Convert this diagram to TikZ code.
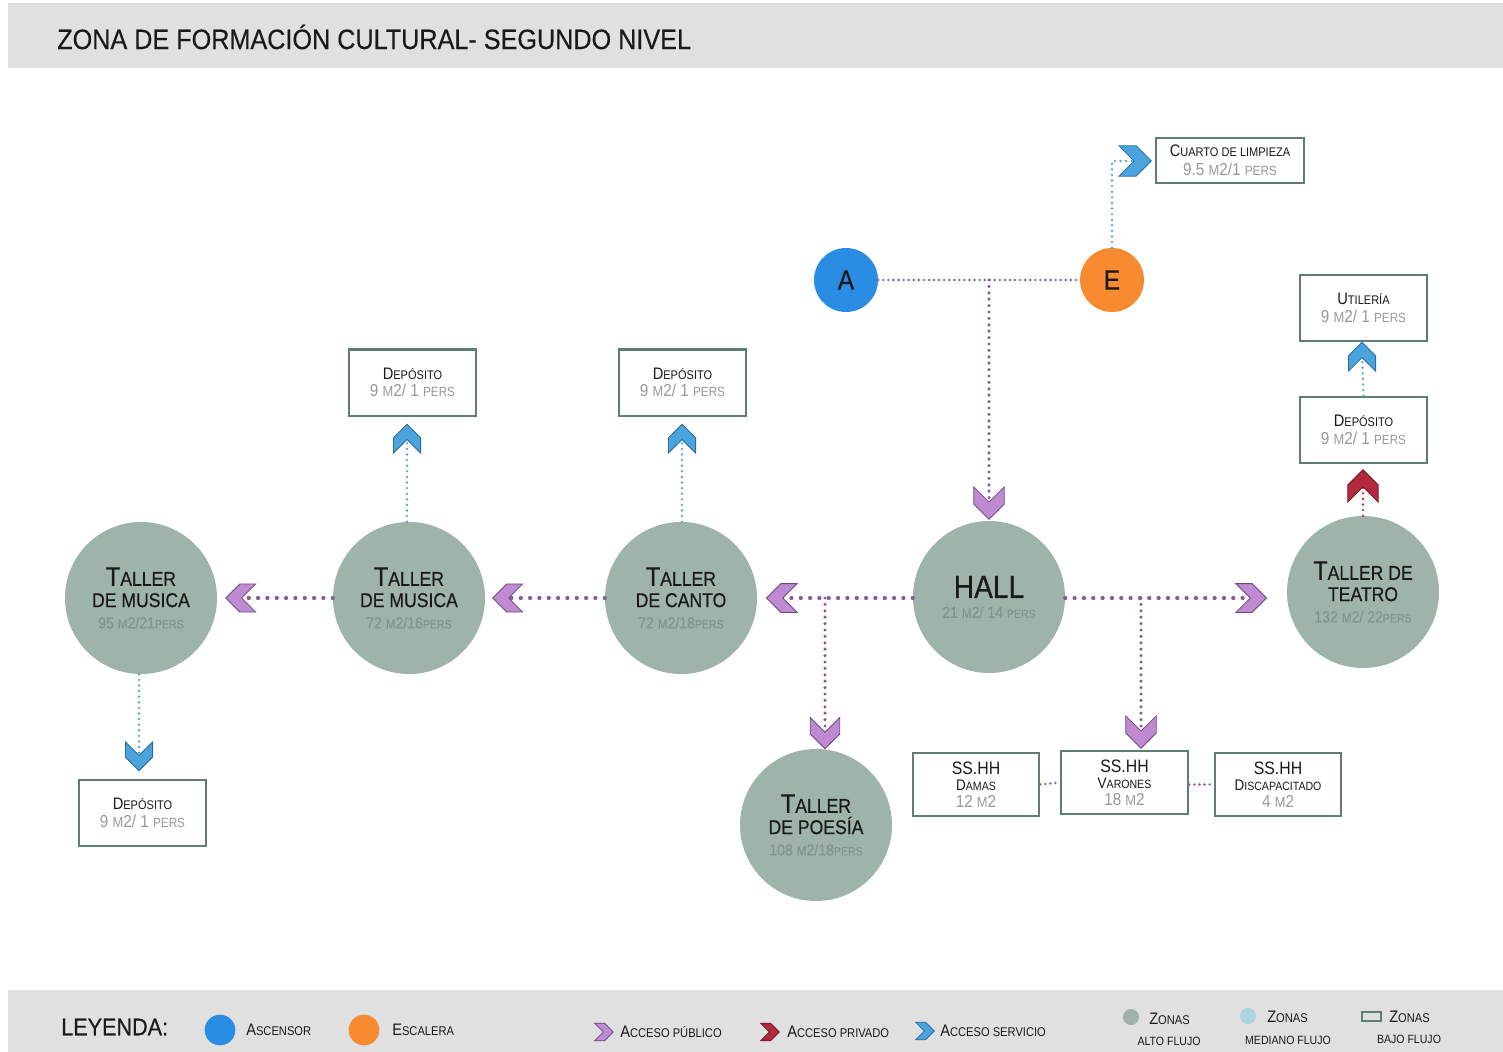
\documentclass[tikz,border=0pt]{standalone}
\usepackage{fontspec}
\setmainfont{Liberation Sans}[FakeStretch=0.88]
\newfontfamily\titlefont{Liberation Sans}[FakeStretch=0.9, FakeBold=0.4]
\newfontfamily\medfont{Liberation Sans}[FakeStretch=0.88, FakeBold=0.5]
\newcommand\fsz[1]{\fontsize{#1}{#1}\selectfont}
\definecolor{circ}{HTML}{9EB4AA}
\definecolor{boxl}{HTML}{5F7E73}
\definecolor{ctxt}{HTML}{84958E}
\definecolor{btxt}{HTML}{999999}
\definecolor{txt}{HTML}{1A1A1A}
\definecolor{barg}{HTML}{E0E0E0}
\definecolor{pfill}{HTML}{C08AD3}
\definecolor{pline}{HTML}{6E4A7C}
\definecolor{pdotc}{HTML}{8B5A9C}
\definecolor{bfill}{HTML}{4BA4DE}
\definecolor{bline}{HTML}{2B6E9E}
\definecolor{bdotc}{HTML}{5AA5D5}
\definecolor{rfill}{HTML}{B3283A}
\definecolor{rline}{HTML}{6E1520}
\definecolor{rdotc}{HTML}{A83A48}
\definecolor{ablue}{HTML}{2A8DE4}
\definecolor{eor}{HTML}{F88A30}
\definecolor{lblue}{HTML}{A9D6E5}
\begin{document}
\begin{tikzpicture}[x=0.75pt,y=-0.75pt,
  zone/.style={circle, fill=circ, minimum size=114pt, inner sep=0pt, align=center, font=\medfont\fsz{16}, text=txt},
  roombox/.style={draw=boxl, line width=2pt, fill=white, align=center, inner sep=0pt, text=txt, font=\fsz{13}},
  vert/.style={circle, minimum size=48pt, inner sep=0pt, font=\medfont\fsz{21}, text=txt},
  pdot/.style={draw=pdotc, line width=3.2pt, line cap=round, dash pattern=on 0pt off 7pt},
  pdots/.style={draw=pdotc, line width=2.6pt, line cap=round, dash pattern=on 0pt off 4.8pt},
  pdotxs/.style={draw=pdotc, line width=2pt, line cap=round, dash pattern=on 0pt off 3.8pt},
  bdot/.style={draw=bdotc, line width=2pt, line cap=round, dash pattern=on 0pt off 4.2pt},
  rdot/.style={draw=rdotc, line width=2pt, line cap=round, dash pattern=on 0pt off 4.2pt},
  chev/.pic={\path[pic actions] (-19,16) -- (-1,16) -- (15,0) -- (-1,-16) -- (-19,-16) -- (-3,0) -- cycle;},
  chP/.style={fill=pfill, draw=pline, line width=0.6pt},
  chB/.style={fill=bfill, draw=bline, line width=0.6pt},
  chR/.style={fill=rfill, draw=rline, line width=0.6pt},
  legtxt/.style={anchor=west, inner sep=0pt, text=txt}
]
\useasboundingbox (0,0) rectangle (1503,1052);
\fill[white] (0,0) rectangle (1503,1052);
\fill[barg] (8,3) rectangle (1503,68);
\fill[barg] (8,990) rectangle (1503,1052);
\node[anchor=west, inner sep=0pt, font=\titlefont\fsz{21}, text=txt] (title) at (57,37) {ZONA DE FORMACIÓN CULTURAL- SEGUNDO NIVEL};

% circles
\node[zone] (TM1) at (141,598) {{\fsz{20}T\fsz{15}ALLER}\\{\fsz{15}DE MUSICA}\\{\color{ctxt}\fsz{12}95 \fsz{10}M\fsz{12}2/21\fsz{9}PERS}};
\node[zone] (TM2) at (409,598) {{\fsz{20}T\fsz{15}ALLER}\\{\fsz{15}DE MUSICA}\\{\color{ctxt}\fsz{12}72 \fsz{10}M\fsz{12}2/16\fsz{9}PERS}};
\node[zone] (TC) at (681,598) {{\fsz{20}T\fsz{15}ALLER}\\{\fsz{15}DE CANTO}\\{\color{ctxt}\fsz{12}72 \fsz{10}M\fsz{12}2/18\fsz{9}PERS}};
\node[zone] (Hall) at (989,597) {{\fsz{24}HALL}\\[-1pt]{\color{ctxt}\fsz{12}21 \fsz{10}M\fsz{12}2/ 14 \fsz{9}PERS}};
\node[zone] (Te) at (1363,592) {{\fsz{20}T\fsz{15}ALLER DE}\\{\fsz{15}TEATRO}\\{\color{ctxt}\fsz{12}132 \fsz{10}M\fsz{12}2/ 22\fsz{9}PERS}};
\node[zone] (Po) at (816,825) {{\fsz{20}T\fsz{15}ALLER}\\{\fsz{15}DE POESÍA}\\{\color{ctxt}\fsz{12}108 \fsz{10}M\fsz{12}2/18\fsz{9}PERS}};
\node[vert, fill=ablue] (A) at (846,280) {A};
\node[vert, fill=eor] (E) at (1112,280) {E};

% boxes
\node[roombox, minimum width=111pt, minimum height=33.75pt, font=\fsz{14.5}] (Cu) at (1230,160.5) {{\fsz{12.5}C\fsz{9.4}UARTO DE LIMPIEZA}\\{\color{btxt}\fsz{13}9.5 \fsz{11}M\fsz{13}2/1 \fsz{10}PERS}};
\node[roombox, minimum width=95.25pt, minimum height=49.5pt] (Ut) at (1363.5,308) {{\fsz{12.5}U\fsz{9.4}TILERÍA}\\{\color{btxt}\fsz{13}9 \fsz{11}M\fsz{13}2/ 1 \fsz{10}PERS}};
\node[roombox, minimum width=95.25pt, minimum height=49.5pt] (D3) at (1363.5,430) {{\fsz{12.5}D\fsz{9.4}EPÓSITO}\\{\color{btxt}\fsz{13}9 \fsz{11}M\fsz{13}2/ 1 \fsz{10}PERS}};
\node[roombox, minimum width=95.25pt, minimum height=50pt] (D1) at (412.5,382.5) {{\fsz{12.5}D\fsz{9.4}EPÓSITO}\\{\color{btxt}\fsz{13}9 \fsz{11}M\fsz{13}2/ 1 \fsz{10}PERS}};
\node[roombox, minimum width=95.25pt, minimum height=50pt] (D2) at (682.5,382.5) {{\fsz{12.5}D\fsz{9.4}EPÓSITO}\\{\color{btxt}\fsz{13}9 \fsz{11}M\fsz{13}2/ 1 \fsz{10}PERS}};
\node[roombox, minimum width=95.25pt, minimum height=49.5pt] (D4) at (142.5,813) {{\fsz{12.5}D\fsz{9.4}EPÓSITO}\\{\color{btxt}\fsz{13}9 \fsz{11}M\fsz{13}2/ 1 \fsz{10}PERS}};
\node[roombox, minimum width=94.5pt, minimum height=47.25pt, font=\fsz{12.4}] (Da) at (976,784.5) {{\fsz{13.5}SS.HH}\\{\fsz{11.5}D\fsz{9}AMAS}\\{\color{btxt}\fsz{13}12 \fsz{11}M\fsz{13}2}};
\node[roombox, minimum width=95.25pt, minimum height=47.25pt, font=\fsz{12.4}] (Va) at (1124.5,782.5) {{\fsz{13.5}SS.HH}\\{\fsz{11.5}V\fsz{9}ARONES}\\{\color{btxt}\fsz{13}18 \fsz{11}M\fsz{13}2}};
\node[roombox, minimum width=94.5pt, minimum height=47.25pt, font=\fsz{12.4}] (Di) at (1278,784.5) {{\fsz{13.5}SS.HH}\\{\fsz{11.5}D\fsz{9}ISCAPACITADO}\\{\color{btxt}\fsz{13}4 \fsz{11}M\fsz{13}2}};

% junctions and chevron positions
\coordinate (jAE) at (989,280);
\coordinate (cHall) at (989,505);
\coordinate (cCu) at (1137,161);
\coordinate (cTC) at (780,598);
\coordinate (jP) at (825,598);
\coordinate (cPo) at (825,735);
\coordinate (cTM2) at (506,598);
\coordinate (cTM1) at (239,598);
\coordinate (cTe) at (1253,598);
\coordinate (jS) at (1141,598);
\coordinate (cSs) at (1141,734);
\coordinate (cD3) at (1363,484);
\coordinate (cUt) at (1362,355);
\coordinate (cD1) at (407,437);
\coordinate (cD2) at (682,437);
\coordinate (cD4) at (139,758);

% connectors
\draw[pdotxs] (A) -- (E);
\draw[pdots] (jAE) -- (cHall);
\draw[bdot] (E.north) |- (cCu);
\draw[pdot] (Hall.west |- cTC) -- (cTC);
\draw[pdots] (jP) -- (cPo);
\draw[pdot] (TC.west) -- (cTM2);
\draw[pdot] (TM2.west) -- (cTM1);
\draw[pdot] (Hall.east |- cTe) -- (cTe);
\draw[pdots] (jS) -- (cSs);
\draw[pdotxs] (Da.east) -- (Va.west);
\draw[pdotxs] (Va.east |- Di.west) -- (Di.west);
\draw[rdot] (Te.north) -- (cD3);
\draw[bdot] (D3.north) -- (cUt);
\draw[bdot] (TM2.north -| cD1) -- (cD1);
\draw[bdot] (TC.north -| cD2) -- (cD2);
\draw[bdot] (TM1.south -| cD4) -- (cD4);

% chevrons
\pic[chP, rotate=-90, scale=0.95] at (cHall) {chev};
\pic[chB, scale=0.95] at (cCu) {chev};
\pic[chP, rotate=180, scale=0.9] at (cTC) {chev};
\pic[chP, rotate=-90, scale=0.92] at (cPo) {chev};
\pic[chP, rotate=180, scale=0.88] at (cTM2) {chev};
\pic[chP, rotate=180, scale=0.88] at (cTM1) {chev};
\pic[chP, scale=0.9] at (cTe) {chev};
\pic[chP, rotate=-90, scale=0.95] at (cSs) {chev};
\pic[chR, rotate=90, scale=0.95] at (cD3) {chev};
\pic[chB, rotate=90, scale=0.85] at (cUt) {chev};
\pic[chB, rotate=90, scale=0.85] at (cD1) {chev};
\pic[chB, rotate=90, scale=0.85] at (cD2) {chev};
\pic[chB, rotate=-90, scale=0.85] at (cD4) {chev};

% legend
\node[legtxt, font=\titlefont\fsz{18}] (ley) at (61,1027) {LEYENDA:};
\node[circle, fill=ablue, minimum size=23pt, inner sep=0pt] (lA) at (220,1030) {};
\node[legtxt] (lAt) at (246,1030) {{\fsz{12.5}A\fsz{9.5}SCENSOR}};
\node[circle, fill=eor, minimum size=23pt, inner sep=0pt] (lE) at (364,1030) {};
\node[legtxt] (lEt) at (392,1030) {{\fsz{12.5}E\fsz{9.5}SCALERA}};
\coordinate (lP) at (605,1032);
\pic[chP, scale=0.55] at (lP) {chev};
\node[legtxt] (lPt) at (620,1032) {{\fsz{12.5}A\fsz{9.5}CCESO PÚBLICO}};
\coordinate (lR) at (771,1032);
\pic[chR, scale=0.55] at (lR) {chev};
\node[legtxt] (lRt) at (787,1032) {{\fsz{12.5}A\fsz{9.5}CCESO PRIVADO}};
\coordinate (lB) at (926,1031);
\pic[chB, scale=0.55] at (lB) {chev};
\node[legtxt] (lBt) at (940,1031) {{\fsz{12.5}A\fsz{9.5}CCESO SERVICIO}};
\node[circle, fill=circ, minimum size=12pt, inner sep=0pt] (lZ1) at (1131,1017) {};
\node[legtxt] (lZ1t) at (1149,1019) {{\fsz{12.5}Z\fsz{9.5}ONAS}};
\node[inner sep=0pt, text=txt, font=\fsz{9}] (lZ1b) at (1169,1041) {ALTO FLUJO};
\node[circle, fill=lblue, minimum size=12pt, inner sep=0pt] (lZ2) at (1248,1016) {};
\node[legtxt] (lZ2t) at (1267,1017) {{\fsz{12.5}Z\fsz{9.5}ONAS}};
\node[inner sep=0pt, text=txt, font=\fsz{9}] (lZ2b) at (1288,1040) {MEDIANO FLUJO};
\node[draw=boxl, line width=1.5pt, minimum width=14pt, minimum height=7pt, inner sep=0pt] (lZ3) at (1371.5,1016.5) {};
\node[legtxt] (lZ3t) at (1389,1017) {{\fsz{12.5}Z\fsz{9.5}ONAS}};
\node[inner sep=0pt, text=txt, font=\fsz{9}] (lZ3b) at (1409,1039) {BAJO FLUJO};
\end{tikzpicture}
\end{document}
